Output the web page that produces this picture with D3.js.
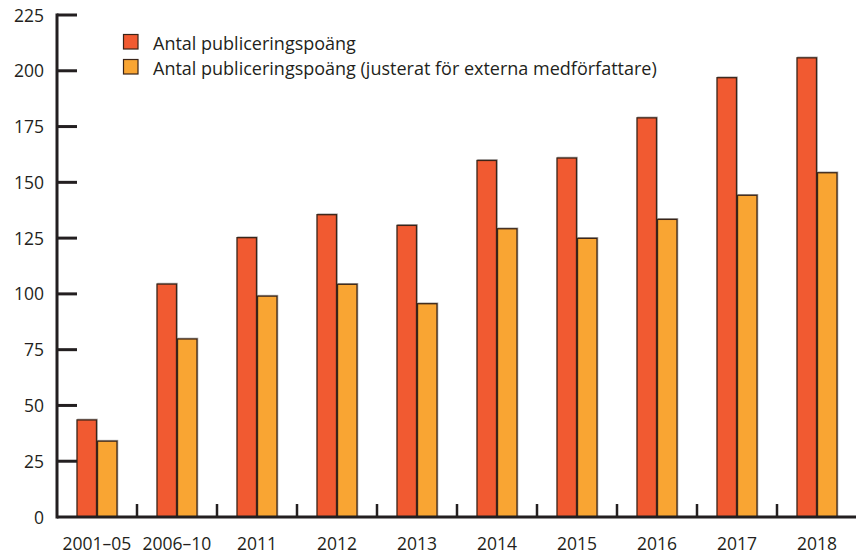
<!DOCTYPE html>
<html><head><meta charset="utf-8">
<script src="https://cdn.jsdelivr.net/npm/d3@7"></script>
<style>body{margin:0;background:#fff}svg{display:block}text{font-family:"Open Sans","Noto Sans",sans-serif;fill:#231f20}</style>
</head><body><svg id="c" width="856" height="554"></svg>
<script>
const categories = ["2001–05","2006–10","2011","2012","2013","2014","2015","2016","2017","2018"];
const seriesNames = ["Antal publiceringspoäng","Antal publiceringspoäng (justerat för externa medförfattare)"];
const valuesRaw = [43.5,104.4,125.2,135.5,130.7,159.8,160.9,178.9,196.9,205.8];
const valuesAdj = [34,79.8,99,104.3,95.6,129.2,124.9,133.4,144.2,154.3];
const yTicks = [0,25,50,75,100,125,150,175,200,225];
const colors = ["#f15a31","#f9a533"];

const svg = d3.select("#c");
const x = d3.scaleBand().domain(categories).range([57,857]).padding(0);
const xs = d3.scaleBand().domain([0,1]).range([20,60]).paddingInner(0.05);
const y = d3.scaleLinear().domain([0,225]).range([517,15]);
const ink = "#231f20";

// bars
const series = [valuesRaw, valuesAdj];
series.forEach((vals,si)=>{
  const g = svg.append("g");
  g.selectAll("rect.sh").data(vals).join("rect")
    .attr("x",(d,i)=>x(categories[i])+xs(si)+0.8)
    .attr("y",d=>y(d)-0.8)
    .attr("width",xs.bandwidth())
    .attr("height",d=>y(0)-y(d)+0.8)
    .attr("fill","none").attr("stroke","#aaa").attr("stroke-width",1);
  g.selectAll("rect.b").data(vals).join("rect")
    .attr("x",(d,i)=>x(categories[i])+xs(si))
    .attr("y",d=>y(d))
    .attr("width",xs.bandwidth())
    .attr("height",d=>y(0)-y(d))
    .attr("fill",colors[si]).attr("stroke","#3a2418").attr("stroke-width",1.3);
});

// y axis
const ya = svg.append("g");
ya.append("line").attr("x1",57).attr("x2",57).attr("y1",y(225)-1.5).attr("y2",y(0)+1.5).attr("stroke",ink).attr("stroke-width",3);
ya.selectAll("line.t").data(yTicks.filter(t=>t>0)).join("line")
  .attr("x1",57).attr("x2",77).attr("y1",d=>y(d)).attr("y2",d=>y(d)).attr("stroke",ink).attr("stroke-width",3);
ya.selectAll("text").data(yTicks).join("text")
  .attr("x",44).attr("y",d=>y(d)+6.5).attr("text-anchor","end").attr("font-size",17.5).text(d=>d);

// x axis
const xa = svg.append("g");
xa.append("line").attr("x1",57).attr("x2",856).attr("y1",y(0)).attr("y2",y(0)).attr("stroke",ink).attr("stroke-width",3);
xa.selectAll("line.t").data(categories.slice(1)).join("line")
  .attr("x1",d=>x(d)).attr("x2",d=>x(d)).attr("y1",y(0)-13).attr("y2",y(0)).attr("stroke",ink).attr("stroke-width",2.5);
xa.selectAll("text").data(categories).join("text")
  .attr("x",d=>x(d)+x.bandwidth()/2).attr("y",549.5).attr("text-anchor","middle").attr("font-size",17.5).text(d=>d);

// legend
const lg = svg.append("g");
seriesNames.forEach((n,i)=>{
  lg.append("rect").attr("x",123.5).attr("y",34.5+i*25).attr("width",14.5).attr("height",14.5)
    .attr("fill",colors[i]).attr("stroke","#3a2418").attr("stroke-width",1.2);
  lg.append("text").attr("x",153).attr("y",49.5+i*25).attr("font-size",18).text(n);
});
</script></body></html>
